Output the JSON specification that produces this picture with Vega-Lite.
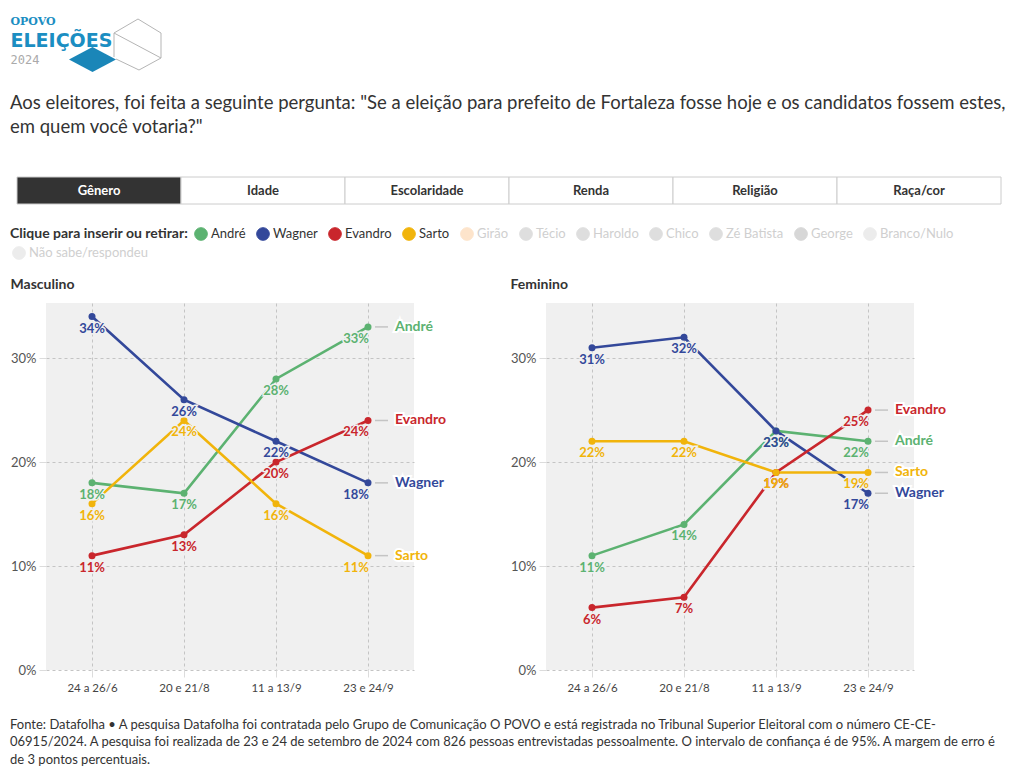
{
  "$schema": "https://vega.github.io/schema/vega-lite/v6.json",
  "background": "white",
  "padding": {"left": 10, "top": 12, "right": 5, "bottom": 0},
  "config": {
    "font": "Lato",
    "view": {"stroke": null},
    "title": {"font": "Lato", "color": "#333"},
    "legend": {"gridAlign": "none"},
    "axis": {"labelFont": "Lato", "title": null, "domain": false, "grid": true, "gridDash": [3, 3], "gridColor": "#c4c4c4", "tickColor": "#dcdcdc", "tickSize": 7}
  },
  "datasets": {
    "logo": [{"part": "OPOVO"}, {"part": "ELEIÇÕES"}, {"part": "2024"}],
    "abas": [{"aba": "Gênero"}, {"aba": "Idade"}, {"aba": "Escolaridade"}, {"aba": "Renda"}, {"aba": "Religião"}, {"aba": "Raça/cor"}],
    "pesq": [
      {"g": "Masculino", "data": "24 a 26/6", "cand": "André", "v": 0.18},
      {"g": "Masculino", "data": "20 e 21/8", "cand": "André", "v": 0.17},
      {"g": "Masculino", "data": "11 a 13/9", "cand": "André", "v": 0.28},
      {"g": "Masculino", "data": "23 e 24/9", "cand": "André", "v": 0.33},
      {"g": "Masculino", "data": "24 a 26/6", "cand": "Wagner", "v": 0.34},
      {"g": "Masculino", "data": "20 e 21/8", "cand": "Wagner", "v": 0.26},
      {"g": "Masculino", "data": "11 a 13/9", "cand": "Wagner", "v": 0.22},
      {"g": "Masculino", "data": "23 e 24/9", "cand": "Wagner", "v": 0.18},
      {"g": "Masculino", "data": "24 a 26/6", "cand": "Evandro", "v": 0.11},
      {"g": "Masculino", "data": "20 e 21/8", "cand": "Evandro", "v": 0.13},
      {"g": "Masculino", "data": "11 a 13/9", "cand": "Evandro", "v": 0.20},
      {"g": "Masculino", "data": "23 e 24/9", "cand": "Evandro", "v": 0.24},
      {"g": "Masculino", "data": "24 a 26/6", "cand": "Sarto", "v": 0.16},
      {"g": "Masculino", "data": "20 e 21/8", "cand": "Sarto", "v": 0.24},
      {"g": "Masculino", "data": "11 a 13/9", "cand": "Sarto", "v": 0.16},
      {"g": "Masculino", "data": "23 e 24/9", "cand": "Sarto", "v": 0.11},
      {"g": "Feminino", "data": "24 a 26/6", "cand": "André", "v": 0.11},
      {"g": "Feminino", "data": "20 e 21/8", "cand": "André", "v": 0.14},
      {"g": "Feminino", "data": "11 a 13/9", "cand": "André", "v": 0.23},
      {"g": "Feminino", "data": "23 e 24/9", "cand": "André", "v": 0.22},
      {"g": "Feminino", "data": "24 a 26/6", "cand": "Wagner", "v": 0.31},
      {"g": "Feminino", "data": "20 e 21/8", "cand": "Wagner", "v": 0.32},
      {"g": "Feminino", "data": "11 a 13/9", "cand": "Wagner", "v": 0.23},
      {"g": "Feminino", "data": "23 e 24/9", "cand": "Wagner", "v": 0.17},
      {"g": "Feminino", "data": "24 a 26/6", "cand": "Evandro", "v": 0.06},
      {"g": "Feminino", "data": "20 e 21/8", "cand": "Evandro", "v": 0.07},
      {"g": "Feminino", "data": "11 a 13/9", "cand": "Evandro", "v": 0.19},
      {"g": "Feminino", "data": "23 e 24/9", "cand": "Evandro", "v": 0.25},
      {"g": "Feminino", "data": "24 a 26/6", "cand": "Sarto", "v": 0.22},
      {"g": "Feminino", "data": "20 e 21/8", "cand": "Sarto", "v": 0.22},
      {"g": "Feminino", "data": "11 a 13/9", "cand": "Sarto", "v": 0.19},
      {"g": "Feminino", "data": "23 e 24/9", "cand": "Sarto", "v": 0.19}
    ]
  },
  "resolve": {"scale": {"color": "independent"}, "legend": {"color": "independent"}},
  "spacing": 22,
  "vconcat": [
    {
      "width": 1,
      "height": 57,
      "data": {"name": "logo"},
      "encoding": {
        "y": {"field": "part", "type": "nominal", "scale": {"type": "point", "domain": ["OPOVO", "ELEIÇÕES", "2024"], "padding": 0.5}, "axis": null}
      },
      "layer": [
        {"transform": [{"filter": "datum.part === 'OPOVO'"}], "mark": {"type": "text", "align": "left", "baseline": "middle", "dx": -36, "font": "DejaVu Serif", "fontWeight": "bold", "fontSize": 11, "color": "#1b8ec2"}, "encoding": {"text": {"field": "part"}}},
        {"transform": [{"filter": "datum.part === 'ELEIÇÕES'"}], "mark": {"type": "text", "align": "left", "baseline": "middle", "dx": -36, "font": "DejaVu Sans", "fontWeight": "bold", "fontSize": 19, "color": "#1b8ec2"}, "encoding": {"text": {"field": "part"}}},
        {"transform": [{"filter": "datum.part === '2024'"}], "mark": {"type": "text", "align": "left", "baseline": "middle", "dx": -36, "font": "DejaVu Sans Mono", "fontSize": 12, "color": "#aaaaaa"}, "encoding": {"text": {"field": "part"}}},
        {"transform": [{"filter": "datum.part === '2024'"}], "mark": {"type": "point", "filled": true, "size": 4, "opacity": 1, "color": "#1a86b8", "shape": "M22.5,0 L46,-12.5 L69.5,0 L46,12.5 Z"}},
        {"transform": [{"filter": "datum.part === 'ELEIÇÕES'"}], "mark": {"type": "point", "filled": false, "size": 4, "opacity": 1, "color": "#b5b5b5", "strokeWidth": 1, "shape": "M67.5,-7.5 L91.5,-21.5 L114.5,-7.5 L114.5,17.5 L92.5,29.5 L69.5,18.5 M67.5,-7.5 L114.5,17.5 M67.5,-7.5 L67.5,16.5"}}
      ]
    },
    {
      "title": {
        "text": ["Aos eleitores, foi feita a seguinte pergunta: \"Se a eleição para prefeito de Fortaleza fosse hoje e os candidatos fossem estes,", "em quem você votaria?\""],
        "anchor": "start", "frame": "group", "dx": -36, "offset": 40, "fontSize": 18.5, "fontWeight": "normal", "lineHeight": 24, "color": "#333"
      },
      "width": 984,
      "height": 27,
      "data": {"name": "abas"},
      "encoding": {
        "x": {"field": "aba", "type": "nominal", "sort": null, "scale": {"type": "band", "paddingInner": 0, "paddingOuter": 0, "range": [-29, 955]}, "axis": null}
      },
      "layer": [
        {"mark": {"type": "rect", "stroke": "#cccccc", "strokeWidth": 1}, "encoding": {"fill": {"condition": {"test": "datum.aba === 'Gênero'", "value": "#333333"}, "value": "white"}}},
        {"mark": {"type": "text", "fontWeight": "bold", "fontSize": 13, "baseline": "middle"}, "encoding": {"text": {"field": "aba"}, "color": {"condition": {"test": "datum.aba === 'Gênero'", "value": "white"}, "value": "#333333"}}}
      ]
    },
    {
      "title": {
        "text": ["Fonte: Datafolha • A pesquisa Datafolha foi contratada pelo Grupo de Comunicação O POVO e está registrada no Tribunal Superior Eleitoral com o número CE-CE-", "06915/2024. A pesquisa foi realizada de 23 e 24 de setembro de 2024 com 826 pessoas entrevistadas pessoalmente. O intervalo de confiança é de 95%. A margem de erro é", "de 3 pontos percentuais."],
        "orient": "bottom", "anchor": "start", "frame": "bounds", "offset": 25, "fontSize": 13, "fontWeight": "normal", "lineHeight": 17.5, "color": "#333"
      },
      "spacing": 63,
      "hconcat": [
        {
          "title": {"text": "Masculino", "anchor": "start", "frame": "bounds", "fontSize": 14, "fontWeight": "bold", "color": "#333", "offset": 11},
          "width": 368,
          "height": 367,
          "view": {"fill": "#f0f0f0", "stroke": null},
          "data": {"name": "pesq"},
          "transform": [{"filter": "datum.g === 'Masculino'"}],
          "encoding": {
            "x": {"field": "data", "type": "ordinal", "sort": ["24 a 26/6", "20 e 21/8", "11 a 13/9", "23 e 24/9"], "scale": {"type": "point", "padding": 0.5}, "axis": {"labelAngle": 0, "labelFontSize": 11.5, "labelColor": "#444", "labelPadding": 5, "tickSize": 7}},
            "y": {"field": "v", "type": "quantitative", "scale": {"domain": [0, 0.353], "nice": false}, "axis": {"values": [0, 0.1, 0.2, 0.3], "format": ".0%", "labelFontSize": 13, "labelColor": "#555", "labelPadding": 3, "tickSize": 7}},
            "color": {
              "field": "cand", "type": "nominal",
              "scale": {"domain": ["André", "Wagner", "Evandro", "Sarto", "Girão", "Técio", "Haroldo", "Chico", "Zé Batista", "George", "Branco/Nulo", "Não sabe/respondeu"], "range": ["#5cb271", "#33489a", "#c9262c", "#f1b40b", "#fde4cb", "#dedede", "#dedede", "#dedede", "#dedede", "#d7d7d7", "#ececec", "#ececec"]},
              "legend": {
                "title": "Clique para inserir ou retirar:", "orient": "none", "legendX": -36, "legendY": -76, "direction": "horizontal", "columns": 11, "gridAlign": "none",
                "titleOrient": "left", "titleFontSize": 14, "titleFontWeight": "bold", "titleColor": "#333", "titlePadding": 5, "titleAnchor": "start", "titleBaseline": "top",
                "labelFontSize": 13, "labelColor": "#333", "labelOffset": 3, "columnPadding": 8, "rowPadding": 1, "symbolType": "circle", "symbolSize": 160, "labelLimit": 300,
                "encode": {
                  "symbols": {"update": {"x": {"signal": "datum.value === 'Não sabe/respondeu' ? 0.5 * datum.offset - 182 : 0.5 * datum.offset"}, "fill": {"scale": "color", "field": "value"}, "stroke": {"value": "rgba(0,0,0,0.15)"}, "strokeWidth": {"value": 1}, "opacity": {"value": 1}}},
                  "labels": {"update": {"dx": {"signal": "datum.value === 'Não sabe/respondeu' ? -182 : 0"}, "fill": {"signal": "indexof(['André','Wagner','Evandro','Sarto'], datum.value) >= 0 ? '#333' : '#cfcfcf'"}}}
                }
              }
            }
          },
          "layer": [
            {"mark": {"type": "line", "strokeWidth": 2.6}},
            {"mark": {"type": "point", "filled": true, "size": 49, "opacity": 1}},
            {"transform": [{"filter": "datum.data !== '23 e 24/9'"}], "mark": {"type": "text", "dy": 12, "fontSize": 13, "fontWeight": "bold", "stroke": "#f0f0f0", "strokeWidth": 3}, "encoding": {"text": {"field": "v", "format": ".0%"}}},
            {"transform": [{"filter": "datum.data !== '23 e 24/9'"}], "mark": {"type": "text", "dy": 12, "fontSize": 13, "fontWeight": "bold"}, "encoding": {"text": {"field": "v", "format": ".0%"}}},
            {"transform": [{"filter": "datum.data === '23 e 24/9'"}], "mark": {"type": "text", "dy": 12, "dx": -12, "fontSize": 13, "fontWeight": "bold", "stroke": "#f0f0f0", "strokeWidth": 3}, "encoding": {"text": {"field": "v", "format": ".0%"}}},
            {"transform": [{"filter": "datum.data === '23 e 24/9'"}], "mark": {"type": "text", "dy": 12, "dx": -12, "fontSize": 13, "fontWeight": "bold"}, "encoding": {"text": {"field": "v", "format": ".0%"}}},
            {"transform": [{"filter": "datum.data === '23 e 24/9'"}], "mark": {"type": "rule", "xOffset": 7, "x2Offset": 20, "strokeWidth": 1.5}, "encoding": {"x2": {"field": "data"}, "color": {"value": "#c4c4c4"}}},
            {"transform": [{"filter": "datum.data === '23 e 24/9'"}], "mark": {"type": "text", "align": "left", "dx": 27, "fontSize": 14, "fontWeight": "bold", "stroke": "white", "strokeWidth": 4}, "encoding": {"text": {"field": "cand"}}},
            {"transform": [{"filter": "datum.data === '23 e 24/9'"}], "mark": {"type": "text", "align": "left", "dx": 27, "fontSize": 14, "fontWeight": "bold"}, "encoding": {"text": {"field": "cand"}}}
          ]
        },
        {
          "title": {"text": "Feminino", "anchor": "start", "frame": "bounds", "fontSize": 14, "fontWeight": "bold", "color": "#333", "offset": 11},
          "width": 368,
          "height": 367,
          "view": {"fill": "#f0f0f0", "stroke": null},
          "data": {"name": "pesq"},
          "transform": [{"filter": "datum.g === 'Feminino'"}],
          "encoding": {
            "x": {"field": "data", "type": "ordinal", "sort": ["24 a 26/6", "20 e 21/8", "11 a 13/9", "23 e 24/9"], "scale": {"type": "point", "padding": 0.5}, "axis": {"labelAngle": 0, "labelFontSize": 11.5, "labelColor": "#444", "labelPadding": 5, "tickSize": 7}},
            "y": {"field": "v", "type": "quantitative", "scale": {"domain": [0, 0.353], "nice": false}, "axis": {"values": [0, 0.1, 0.2, 0.3], "format": ".0%", "labelFontSize": 13, "labelColor": "#555", "labelPadding": 3, "tickSize": 7}},
            "color": {"field": "cand", "type": "nominal"}
          },
          "layer": [
            {"mark": {"type": "line", "strokeWidth": 2.6}},
            {"mark": {"type": "point", "filled": true, "size": 49, "opacity": 1}},
            {"transform": [{"filter": "datum.data !== '23 e 24/9'"}], "mark": {"type": "text", "dy": 12, "fontSize": 13, "fontWeight": "bold", "stroke": "#f0f0f0", "strokeWidth": 3}, "encoding": {"text": {"field": "v", "format": ".0%"}}},
            {"transform": [{"filter": "datum.data !== '23 e 24/9'"}], "mark": {"type": "text", "dy": 12, "fontSize": 13, "fontWeight": "bold"}, "encoding": {"text": {"field": "v", "format": ".0%"}}},
            {"transform": [{"filter": "datum.data === '23 e 24/9'"}], "mark": {"type": "text", "dy": 12, "dx": -12, "fontSize": 13, "fontWeight": "bold", "stroke": "#f0f0f0", "strokeWidth": 3}, "encoding": {"text": {"field": "v", "format": ".0%"}}},
            {"transform": [{"filter": "datum.data === '23 e 24/9'"}], "mark": {"type": "text", "dy": 12, "dx": -12, "fontSize": 13, "fontWeight": "bold"}, "encoding": {"text": {"field": "v", "format": ".0%"}}},
            {"transform": [{"filter": "datum.data === '23 e 24/9'"}], "mark": {"type": "rule", "xOffset": 7, "x2Offset": 20, "strokeWidth": 1.5}, "encoding": {"x2": {"field": "data"}, "color": {"value": "#c4c4c4"}}},
            {"transform": [{"filter": "datum.data === '23 e 24/9'"}], "mark": {"type": "text", "align": "left", "dx": 27, "fontSize": 14, "fontWeight": "bold", "stroke": "white", "strokeWidth": 4}, "encoding": {"text": {"field": "cand"}}},
            {"transform": [{"filter": "datum.data === '23 e 24/9'"}], "mark": {"type": "text", "align": "left", "dx": 27, "fontSize": 14, "fontWeight": "bold"}, "encoding": {"text": {"field": "cand"}}}
          ]
        }
      ]
    }
  ]
}
